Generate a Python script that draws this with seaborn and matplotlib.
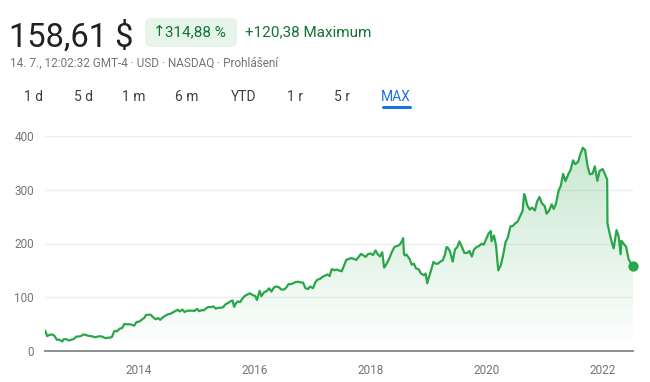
import numpy as np
import pandas as pd
import matplotlib
matplotlib.use("Agg")
import matplotlib.pyplot as plt
import matplotlib.dates as mdates
from matplotlib.patches import FancyBboxPatch
import seaborn as sns

# ---- data ----
dates = [
    "2012-05-18","2012-06-01","2012-06-15","2012-07-02","2012-07-16","2012-08-01","2012-08-15","2012-09-04","2012-09-14","2012-10-01","2012-10-15","2012-11-01","2012-11-15","2012-12-03","2012-12-14",
    "2013-01-02","2013-01-15","2013-02-01","2013-02-15","2013-03-01","2013-03-15","2013-04-01","2013-04-15","2013-05-01","2013-05-15","2013-06-03","2013-06-14","2013-07-01","2013-07-15","2013-07-25","2013-08-01","2013-08-15","2013-09-03","2013-09-16","2013-10-01","2013-10-15","2013-11-01","2013-11-15","2013-12-02","2013-12-16",
    "2014-01-02","2014-01-15","2014-02-03","2014-02-14","2014-03-03","2014-03-14","2014-04-01","2014-04-15","2014-05-01","2014-05-15","2014-06-02","2014-06-16","2014-07-01","2014-07-15","2014-08-01","2014-08-15","2014-09-02","2014-09-15","2014-10-01","2014-10-15","2014-11-03","2014-11-14","2014-12-01","2014-12-15",
    "2015-01-02","2015-01-15","2015-02-02","2015-02-13","2015-03-02","2015-03-16","2015-04-01","2015-04-15","2015-05-01","2015-05-15","2015-06-01","2015-06-15","2015-07-01","2015-07-15","2015-08-03","2015-08-14","2015-08-24","2015-09-01","2015-09-15","2015-10-01","2015-10-15","2015-11-02","2015-11-16","2015-12-01","2015-12-15",
    "2016-01-04","2016-01-15","2016-02-01","2016-02-12","2016-03-01","2016-03-15","2016-04-01","2016-04-15","2016-05-02","2016-05-16","2016-06-01","2016-06-15","2016-07-01","2016-07-15","2016-08-01","2016-08-15","2016-09-01","2016-09-15","2016-10-03","2016-10-17","2016-11-01","2016-11-15","2016-12-01","2016-12-15",
    "2017-01-03","2017-01-17","2017-02-01","2017-02-15","2017-03-01","2017-03-15","2017-04-03","2017-04-17","2017-05-01","2017-05-15","2017-06-01","2017-06-15","2017-07-03","2017-07-17","2017-08-01","2017-08-15","2017-09-01","2017-09-15","2017-10-02","2017-10-16","2017-11-01","2017-11-15","2017-12-01","2017-12-15",
    "2018-01-02","2018-01-16","2018-02-01","2018-02-15","2018-03-01","2018-03-15","2018-03-27","2018-04-02","2018-04-16","2018-05-01","2018-05-15","2018-06-01","2018-06-15","2018-07-02","2018-07-16","2018-07-25","2018-07-30","2018-08-06","2018-08-15","2018-09-04","2018-09-17","2018-10-01","2018-10-15","2018-11-01","2018-11-15","2018-12-03","2018-12-14","2018-12-24",
    "2019-01-02","2019-01-15","2019-02-01","2019-02-15","2019-03-01","2019-03-15","2019-04-01","2019-04-15","2019-04-25","2019-05-01","2019-05-15","2019-06-03","2019-06-17","2019-07-01","2019-07-15","2019-08-01","2019-08-15","2019-09-03","2019-09-16","2019-10-01","2019-10-15","2019-11-01","2019-11-15","2019-12-02","2019-12-16",
    "2020-01-02","2020-01-15","2020-01-29","2020-02-03","2020-02-18","2020-03-02","2020-03-16","2020-04-01","2020-04-15","2020-05-01","2020-05-15","2020-06-01","2020-06-15","2020-07-01","2020-07-15","2020-08-03","2020-08-17","2020-08-26","2020-09-01","2020-09-15","2020-10-01","2020-10-15","2020-11-02","2020-11-16","2020-12-01","2020-12-15",
    "2021-01-04","2021-01-15","2021-02-01","2021-02-16","2021-03-01","2021-03-15","2021-04-01","2021-04-15","2021-04-29","2021-05-14","2021-06-01","2021-06-15","2021-07-01","2021-07-15","2021-08-02","2021-08-16","2021-09-01","2021-09-15","2021-10-01","2021-10-15","2021-11-01","2021-11-15","2021-12-01","2021-12-15",
    "2022-01-03","2022-01-14","2022-02-01","2022-02-03","2022-02-15","2022-03-01","2022-03-14","2022-04-01","2022-04-14","2022-04-27","2022-05-02","2022-05-16","2022-06-01","2022-06-16","2022-07-01","2022-07-14",
]
prices = [
    38.2,27.7,30.0,30.8,28.3,20.9,21.2,17.7,22.0,21.9,19.5,21.2,22.2,27.0,26.8,
    28.0,30.9,29.7,28.3,27.8,27.0,25.5,26.9,27.4,26.6,23.9,24.6,24.8,26.3,34.4,37.5,36.6,41.9,42.5,50.4,49.5,49.8,49.0,47.1,53.8,
    54.7,57.6,61.5,67.1,67.4,67.7,62.6,59.1,61.2,58.0,63.1,65.6,68.2,68.9,71.6,73.6,76.7,73.6,77.1,72.6,75.0,74.9,75.1,74.4,
    78.4,74.1,76.0,75.7,79.8,81.9,81.7,83.0,78.8,80.4,80.4,81.5,86.9,89.0,92.8,94.0,82.1,87.2,92.3,90.9,97.5,103.0,104.9,107.3,104.6,
    102.2,95.0,112.0,102.0,109.8,111.0,116.6,110.5,118.6,119.9,118.8,114.6,114.2,116.9,124.3,124.4,126.2,128.4,128.8,127.5,127.2,117.2,115.1,120.0,
    116.9,127.9,133.0,134.0,137.4,139.7,142.3,139.4,152.5,150.2,151.5,149.8,148.4,158.7,169.9,171.0,173.0,171.6,169.5,174.5,180.7,178.0,175.1,180.2,
    181.4,178.4,187.1,180.0,175.9,183.9,155.2,157.4,164.5,173.9,184.3,194.0,195.1,197.4,203.5,210.0,180.3,177.7,179.5,171.2,160.6,162.4,153.4,151.8,143.9,141.1,144.1,126.1,
    135.7,148.0,165.7,162.5,162.3,166.0,168.7,179.6,193.3,193.0,186.3,166.2,189.0,193.0,203.9,192.7,182.6,182.4,186.2,175.8,188.9,193.6,195.1,199.7,197.9,
    209.8,218.8,223.2,204.2,214.8,196.4,150.0,159.6,177.0,202.3,210.9,231.9,232.5,237.5,240.3,252.0,261.2,292.0,288.4,271.0,263.0,266.9,261.4,278.1,286.6,275.6,
    268.9,255.4,262.0,272.8,264.3,273.8,298.7,307.8,329.5,315.9,329.1,336.8,354.7,347.6,352.0,366.6,378.0,373.9,343.0,328.8,330.0,343.6,316.6,334.9,
    338.5,331.9,319.0,237.8,221.0,203.5,190.6,224.9,214.1,180.0,205.0,199.5,193.6,170.9,163.0,158.61,
]
y_ticks = [0, 100, 200, 300, 400]
x_tick_years = [2014, 2016, 2018, 2020, 2022]
tabs = ["1 d", "5 d", "1 m", "6 m", "YTD", "1 r", "5 r", "MAX"]

df = pd.DataFrame({"date": pd.to_datetime(dates), "price": prices})

LINE = "#2aa64a"
GRID = "#eeeeee"
AXC = "#70757a"

sns.set_style("white")
plt.rcParams["font.family"] = ["Roboto", "DejaVu Sans"]

fig = plt.figure(figsize=(6.5, 3.82), dpi=100)
W, H = 650, 382
ax = fig.add_axes([45 / W, (H - 351) / H, (633 - 45) / W, (351 - 136) / H])

xnum = mdates.date2num(df["date"])
x0, x1 = xnum[0], xnum[-1]

# gradient fill under the line
ymax_data = max(prices)
grad = np.zeros((256, 2, 4))
rgb = matplotlib.colors.to_rgb(LINE)
grad[..., 0], grad[..., 1], grad[..., 2] = rgb
grad[..., 3] = np.linspace(0.26, 0.0, 256)[:, None]
im = ax.imshow(grad, extent=[x0, x1, 0, ymax_data], origin="upper",
               aspect="auto", zorder=1, interpolation="bilinear")
poly = ax.fill_between(xnum, df["price"], 0, color="none", lw=0)
clip = poly.get_paths()[0]
im.set_clip_path(clip, transform=ax.transData)

for t in y_ticks[1:]:
    ax.axhline(t, color=GRID, lw=1, zorder=0)

sns.lineplot(data=df, x="date", y="price", ax=ax, color=LINE, lw=1.6, zorder=3)
ax.scatter([df["date"].iloc[-1]], [df["price"].iloc[-1]], s=55, color=LINE,
           zorder=4, clip_on=False, linewidths=0)

ax.set_xlim(x0, x1)
ax.set_ylim(0, 400)
ax.set_xlabel("")
ax.set_ylabel("")
for s in ["top", "right", "left"]:
    ax.spines[s].set_visible(False)
ax.spines["bottom"].set_color("#80868b")
ax.spines["bottom"].set_linewidth(1.3)
ax.set_yticks(y_ticks)
ax.set_yticklabels([str(v) for v in y_ticks])
ax.tick_params(axis="y", length=0, pad=8, labelsize=8.5, labelcolor=AXC)
ax.set_xticks([mdates.date2num(pd.Timestamp(f"{yr}-01-01")) for yr in x_tick_years])
ax.set_xticklabels([str(yr) for yr in x_tick_years])
ax.tick_params(axis="x", length=4, width=1.3, color="#80868b", pad=5,
               labelsize=8.5, labelcolor=AXC, direction="out")
ax.patch.set_alpha(0)

# header
fig.text(9 / W, 1 - 47 / H, "158,61 $", fontsize=23.5, color="#202124", va="baseline")
badge = FancyBboxPatch((145 / W, 1 - 47 / H), 92 / W, 29 / H,
                       boxstyle="round,pad=0,rounding_size=0.012",
                       transform=fig.transFigure, fc="#e6f4ea", ec="none")
fig.patches.append(badge)
fig.text(153 / W, 1 - 32 / H, "↑", fontsize=11, color="#137333", va="center")
fig.text(165 / W, 1 - 32 / H, "314,88 %", fontsize=11, color="#137333", va="center")
fig.text(245 / W, 1 - 32 / H, "+120,38 Maximum", fontsize=11, color="#137333", va="center")
fig.text(10 / W, 1 - 63 / H, "14. 7., 12:02:32 GMT-4 · USD · NASDAQ · Prohlášení",
         fontsize=8.5, color="#70757a", va="center")

tab_x = [34, 84, 134, 187, 244, 295, 342, 396]
for tx, lab in zip(tab_x, tabs):
    col = "#1a73e8" if lab == "MAX" else "#3c4043"
    fig.text(tx / W, 1 - 97 / H, lab, fontsize=10, color=col, ha="center", va="center")
fig.add_artist(plt.Line2D([383 / W, 410 / W], [1 - 107 / H, 1 - 107 / H],
                          color="#1a73e8", lw=2.2, solid_capstyle="round"))

fig.savefig("out.png", dpi=100)
